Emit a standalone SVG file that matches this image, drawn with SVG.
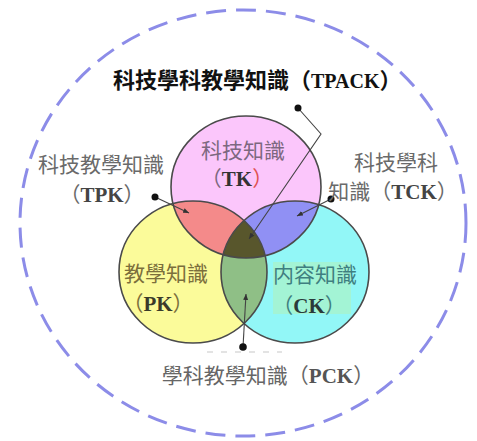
<svg xmlns="http://www.w3.org/2000/svg" width="477" height="441" viewBox="0 0 477 441">
<style>
.cjk{font-family:"Noto Sans CJK TC","Noto Sans CJK SC",sans-serif;font-size:21px}
.lat{font-family:"Liberation Serif",serif;font-weight:bold;font-size:21px}
.outline{fill:none;stroke:#4a4a4a;stroke-width:1.6}
.lead{fill:none;stroke:#444;stroke-width:1.1}
.dot{fill:#111}
</style>
<defs>
<ellipse id="eTK" cx="246" cy="187" rx="75" ry="71"/>
<ellipse id="ePK" cx="193" cy="272" rx="74" ry="71"/>
<ellipse id="eCK" cx="295" cy="272" rx="74" ry="71"/>
<clipPath id="cPK"><use href="#ePK"/></clipPath>
<clipPath id="cCK"><use href="#eCK"/></clipPath>
<marker id="arr" markerWidth="7" markerHeight="6" refX="6" refY="3" orient="auto" markerUnits="userSpaceOnUse">
<path d="M0,0.5 L6,3 L0,5.5 z" fill="#333"/>
</marker>
</defs>
<rect width="477" height="441" fill="#fff"/>
<g id="outer">
<ellipse cx="243" cy="223" rx="223" ry="213" fill="none" stroke="#8c8ce8" stroke-width="3" stroke-dasharray="20 10"/>
</g>
<g id="PK"><use href="#ePK" fill="#fbfb9a"/></g>
<g id="CK"><use href="#eCK" fill="#92f7f7"/></g>
<g id="TK"><use href="#eTK" fill="#fbc6fb"/></g>
<g id="TPK"><use href="#eTK" fill="#f48a8a" clip-path="url(#cPK)"/></g>
<g id="TCK"><use href="#eTK" fill="#9090f4" clip-path="url(#cCK)"/></g>
<g id="PCK"><use href="#ePK" fill="#8fbf86" clip-path="url(#cCK)"/></g>
<g id="TPACK"><g clip-path="url(#cPK)"><use href="#eTK" fill="#58562c" clip-path="url(#cCK)"/></g></g>
<rect x="273" y="262" width="78" height="52" fill="#a8f2cc" opacity="0.8"/>
<g id="outlines">
<use href="#ePK" class="outline"/>
<use href="#eCK" class="outline"/>
<use href="#eTK" class="outline"/>
</g>
<g id="connectors">
<polyline class="lead" points="298,108 321,134 249,239" marker-end="url(#arr)"/>
<line class="lead" x1="155" y1="197" x2="189" y2="213" marker-end="url(#arr)"/>
<line class="lead" x1="331" y1="199" x2="297" y2="216" marker-end="url(#arr)"/>
<line class="lead" x1="243" y1="347" x2="246" y2="294" marker-end="url(#arr)"/>
<circle class="dot" cx="298" cy="108" r="3.5"/>
<circle class="dot" cx="155" cy="197" r="3.5"/>
<circle class="dot" cx="331" cy="199" r="3.5"/>
<circle class="dot" cx="243" cy="347" r="3.8"/>
<line x1="207" y1="352" x2="282" y2="352" stroke="#c8c8c8" stroke-width="1.2" stroke-dasharray="6 8"/>
</g>
<g id="labels">
<text x="113" y="88" class="cjk" style="font-size:22px;font-weight:bold" fill="#111">科技學科教學知識（<tspan class="lat" style="font-size:20px">TPACK</tspan>）</text>
<text x="243" y="158" class="cjk" text-anchor="middle" fill="#7d6880">科技知識</text>
<text x="237" y="186" class="cjk" text-anchor="middle" fill="#7d6880">（<tspan class="lat" fill="#333">TK</tspan><tspan fill="#e05050">）</tspan></text>
<text x="101" y="172" class="cjk" text-anchor="middle" fill="#6a6a6a">科技教學知識</text>
<text x="102" y="202" class="cjk" text-anchor="middle" fill="#6a6a6a">（<tspan class="lat" fill="#444">TPK</tspan>）</text>
<text x="396" y="170" class="cjk" text-anchor="middle" fill="#6a6a6a">科技學科</text>
<text x="393" y="199" class="cjk" text-anchor="middle" fill="#6a6a6a">知識（<tspan class="lat" fill="#444">TCK</tspan>）</text>
<text x="166" y="281" class="cjk" text-anchor="middle" fill="#7b6f3c">教學知識</text>
<text x="158" y="311" class="cjk" text-anchor="middle" fill="#7b6f3c">（<tspan class="lat" fill="#3a3a2a">PK</tspan>）</text>
<text x="315" y="282" class="cjk" text-anchor="middle" fill="#3f7f80">内容知識</text>
<text x="309" y="313" class="cjk" text-anchor="middle" fill="#3f7f80">（<tspan class="lat" fill="#2a3a3a">CK</tspan>）</text>
<text x="268" y="383" class="cjk" text-anchor="middle" fill="#666">學科教學知識（<tspan class="lat" fill="#555">PCK</tspan>）</text>
</g>
</svg>
